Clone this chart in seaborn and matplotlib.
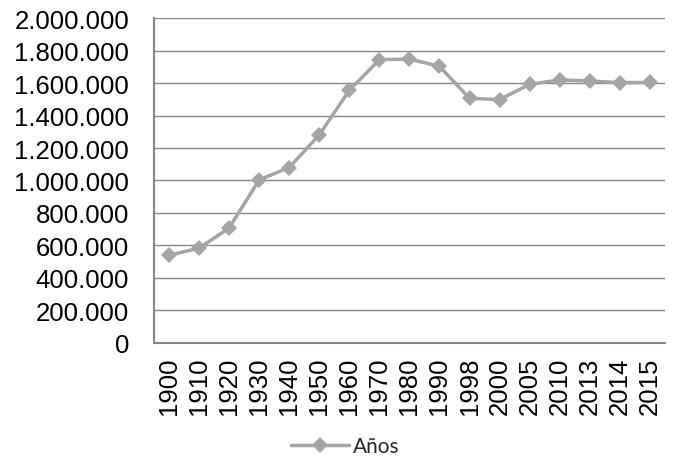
import matplotlib
matplotlib.use("Agg")
import matplotlib.pyplot as plt
from matplotlib.ticker import FuncFormatter, MultipleLocator
import pandas as pd
import seaborn as sns

# datos
years = ["1900", "1910", "1920", "1930", "1940", "1950", "1960", "1970",
         "1980", "1990", "1998", "2000", "2005", "2010", "2013", "2014", "2015"]
values = [539000, 584000, 707000, 1004000, 1080000, 1281000, 1555000, 1744000,
          1748000, 1703000, 1506000, 1498000, 1592000, 1619000, 1613000, 1602000, 1604000]
series_name = "Años"

sns.set_theme(style="white")
plt.rcParams["font.family"] = ["Liberation Sans", "DejaVu Sans"]

df = pd.DataFrame({"year": years, "value": values})
df["pos"] = range(len(df))

fig = plt.figure(figsize=(6.77, 4.77), dpi=100)
ax = fig.add_axes([0.2275, 0.279, 0.7545, 0.681])

sns.lineplot(data=df, x="pos", y="value", color="#A5A5A5", linewidth=2.5,
             marker="D", markersize=8.5, markeredgewidth=0, label=series_name, ax=ax)

ax.set_xlim(-0.5, len(years) - 0.5)
ax.set_ylim(0, 2000000)
ax.yaxis.set_major_locator(MultipleLocator(200000))
ax.yaxis.set_major_formatter(FuncFormatter(lambda v, p: f"{int(v):,}".replace(",", ".")))
ax.set_xticks(df["pos"])
ax.set_xticklabels(years, rotation=90)
ax.tick_params(axis="both", labelsize=18.5, colors="black", length=0)
ax.tick_params(axis="y", pad=18)
ax.tick_params(axis="x", pad=10)
ax.set_xlabel("")
ax.set_ylabel("")

ax.grid(axis="y", color="#868686", linewidth=1)
ax.grid(axis="x", visible=False)
ax.set_axisbelow(True)
for s in ["top", "right"]:
    ax.spines[s].set_visible(False)
for s in ["left", "bottom"]:
    ax.spines[s].set_color("#868686")
    ax.spines[s].set_linewidth(1.5)

ax.legend_.remove()
handles, labels = ax.get_legend_handles_labels()
fig.legend(handles, labels, loc="center", bbox_to_anchor=(0.51, 0.062),
           frameon=False, handlelength=2.8, handletextpad=0.2,
           prop={"family": ["Lato", "DejaVu Sans"], "size": 15})

fig.savefig("out.png", dpi=100)
